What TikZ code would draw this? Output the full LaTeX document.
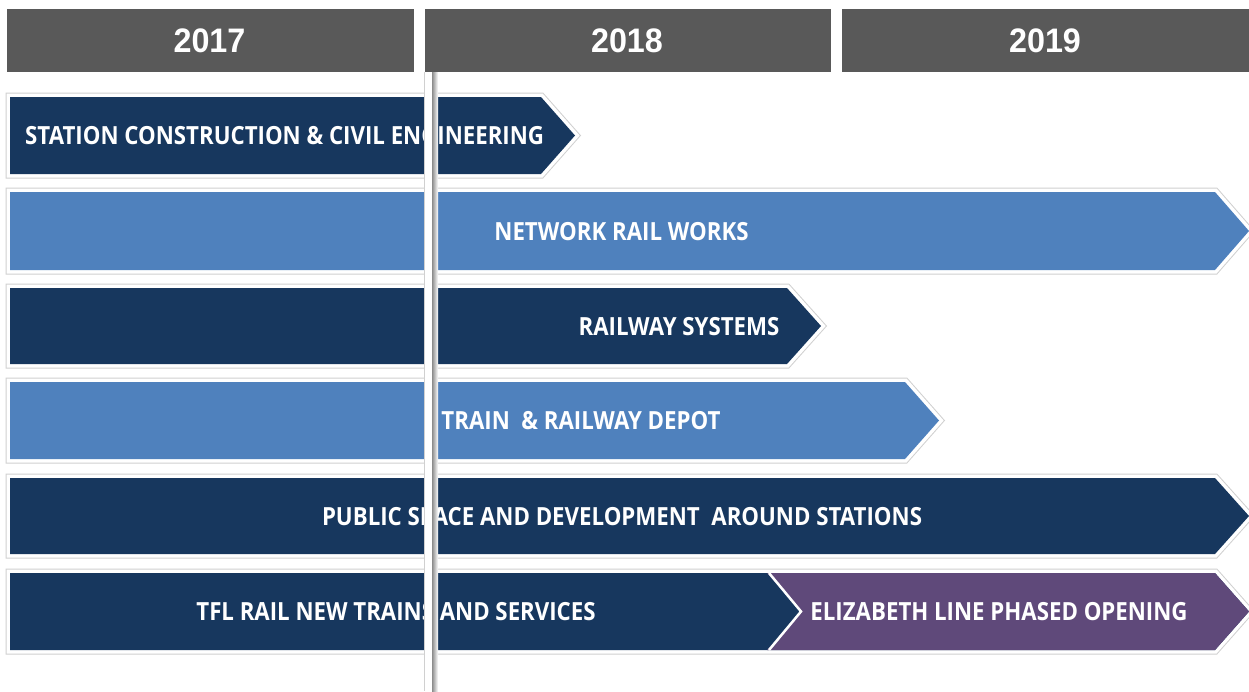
\documentclass[tikz,border=0pt]{standalone}
\usepackage{fontspec}
\setmainfont{Open Sans}
\newfontfamily\hdrfont[FakeStretch=0.95]{Liberation Sans}
\newfontfamily\barfont[FakeStretch=0.89]{Open Sans}
\definecolor{hdrgrey}{HTML}{595959}
\definecolor{navy}{HTML}{17375E}
\definecolor{lblue}{HTML}{4F81BD}
\definecolor{plum}{HTML}{5F497A}
\definecolor{rim}{HTML}{D0D0D0}
\begin{document}
\begin{tikzpicture}[x=1pt,y=-1pt,
  hdr/.style={fill=hdrgrey,draw=none},
  hdrtext/.style={text=white,font=\hdrfont\bfseries\fontsize{34}{34}\selectfont,inner sep=0pt},
  bartext/.style={text=white,font=\barfont\bfseries\fontsize{25}{25}\selectfont,inner sep=0pt,anchor=base},
  outer/.style={draw=rim,line width=9pt,line join=miter},
  inner/.style={draw=white,line width=7pt,line join=miter}
]
\useasboundingbox (0,0) rectangle (1249,691);
\fill[white] (0,0) rectangle (1249,691);
% header
\fill[hdr] (7,9) rectangle (414,72);
\fill[hdr] (425,9) rectangle (831,72);
\fill[hdr] (842,9) rectangle (1249,72);
\node[hdrtext] (h1) at (209.5,41) {2017};
\node[hdrtext] (h2) at (627,41) {2018};
\node[hdrtext] (h3) at (1045,41) {2019};
% bars: macro (top, bottom, rect end, tip)
\newcommand{\barshape}[4]{(10,#1) -- (#3,#1) -- (#4,{(#1+#2)/2}) -- (#3,#2) -- (10,#2) -- cycle}
\foreach \t/\b/\e/\p/\c in {97/174/541/575/navy, 192/270/1215/1249/lblue, 288/364/787/821/navy, 382/459/905/939/lblue, 478/554/1215/1249/navy, 573/650/1215/1249/navy}{
  \draw[outer] \barshape{\t}{\b}{\e}{\p};
  \draw[inner,fill=\c] \barshape{\t}{\b}{\e}{\p};
  \fill[\c] \barshape{\t}{\b}{\e}{\p};
}
% purple segment of last row
\fill[plum] (767,573) -- (1215,573) -- (1249,611.5) -- (1215,650) -- (767,650) -- (801,611.5) -- cycle;
\draw[white,line width=2.5pt] (769,573) -- (801,611.5) -- (769,650);
% texts
\node[bartext,anchor=base west] (t1) at (25,144) {STATION CONSTRUCTION \& CIVIL ENGINEERING};
\node[bartext] (t2) at (621.5,240) {NETWORK RAIL WORKS};
\node[bartext] (t3) at (679,335) {RAILWAY SYSTEMS};
\node[bartext] (t4) at (581,429) {TRAIN\ \ \& RAILWAY DEPOT};
\node[bartext] (t5) at (622,525) {PUBLIC SPACE AND DEVELOPMENT\ \ AROUND STATIONS};
\node[bartext] (t6) at (396,620) {TFL RAIL NEW TRAINS AND SERVICES};
\node[bartext] (t7) at (999,620) {ELIZABETH LINE PHASED OPENING};
% vertical divider
\shade[left color=black!45,right color=white] (432,72) rectangle (438,691);
\fill[white] (424.5,72) rectangle (432,691);
\draw[rim,line width=0.8pt] (424.5,72) -- (424.5,691);
\end{tikzpicture}
\end{document}
